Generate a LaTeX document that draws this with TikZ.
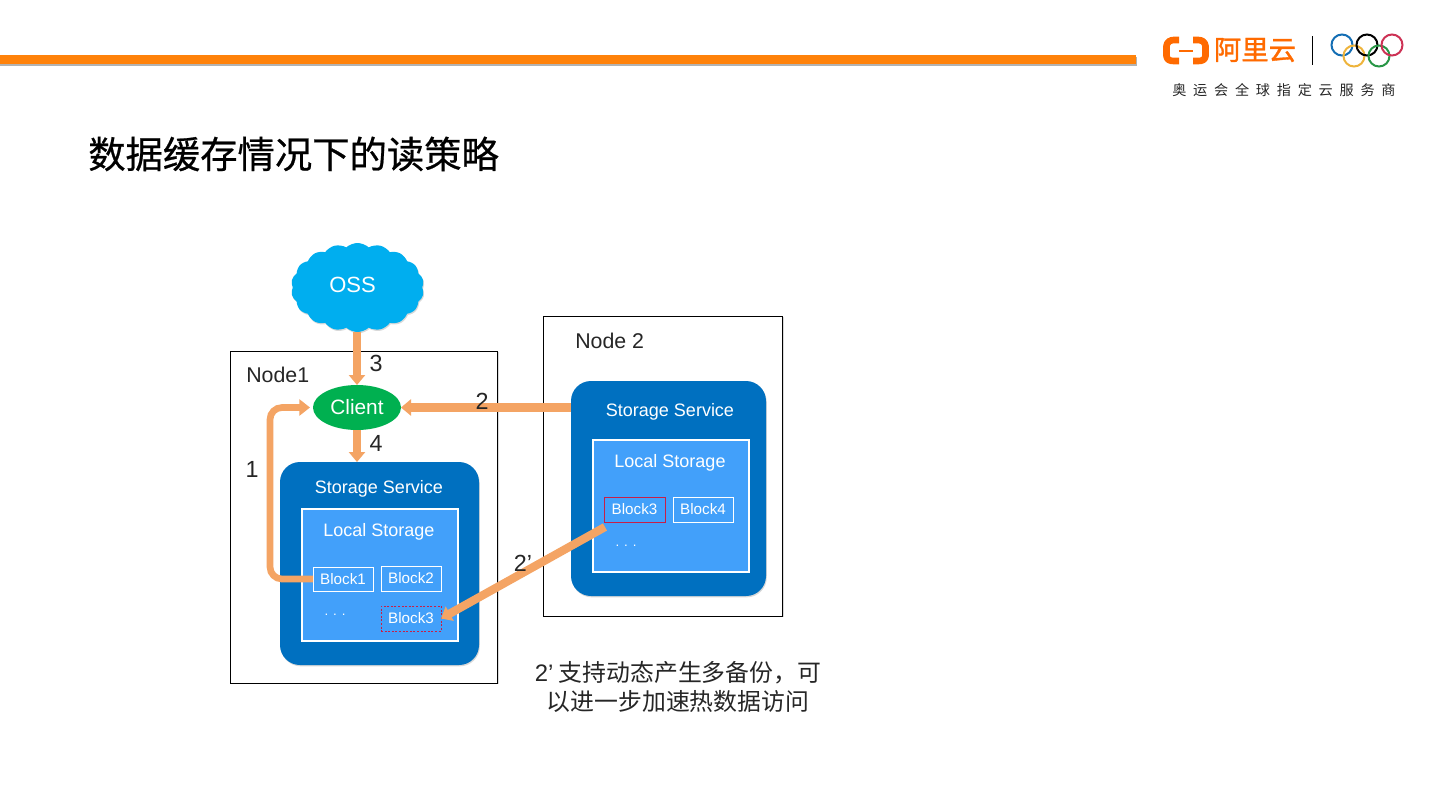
\documentclass[tikz,border=0pt]{standalone}
\usepackage{fontspec}
\setmainfont{Liberation Sans}
\newfontfamily\cjk{Noto Sans CJK SC}
\newfontfamily\cjktitle[FakeBold=0.6]{Noto Sans CJK SC}
\newfontfamily\cjklogo[FakeBold=1.2]{Noto Sans CJK SC}
\newfontfamily\cjktag[LetterSpace=48]{Noto Sans CJK SC}
\usetikzlibrary{arrows.meta,shapes.geometric,shapes.symbols,shadows,positioning}
\def\px{0.75pt}
\definecolor{barorange}{RGB}{255,130,10}
\definecolor{logoorange}{RGB}{255,106,0}
\definecolor{flowc}{RGB}{244,164,100}
\definecolor{svcblue}{RGB}{0,112,192}
\definecolor{locblue}{RGB}{66,160,250}
\definecolor{cloudc}{RGB}{0,174,239}
\definecolor{clientg}{RGB}{0,176,80}
\definecolor{redb}{RGB}{200,30,70}
\definecolor{ringblue}{RGB}{20,110,180}
\definecolor{ringyellow}{RGB}{238,180,60}
\definecolor{ringgreen}{RGB}{40,150,70}
\definecolor{ringred}{RGB}{205,50,85}
\tikzset{
  softshadow/.style={drop shadow={opacity=.3,shadow xshift=.6pt,shadow yshift=-1pt}},
  boxat/.style n args={2}{minimum width=#1*\px,minimum height=#2*\px,inner sep=0pt,outer sep=0pt},
  hostbox/.style={draw=black,fill=white,line width=.75pt,softshadow},
  svcbox/.style={fill=svcblue,rounded corners=15pt,softshadow},
  locbox/.style={fill=locblue,draw=white,line width=1.5pt,softshadow},
  blockbox/.style={draw=white,line width=.75pt,text=white,font=\fontsize{11.4}{13}\selectfont},
  blockred/.style={draw=redb,line width=.75pt,text=white,font=\fontsize{11.4}{13}\selectfont},
  blockdash/.style={draw=redb,dash pattern=on 1.5pt off 1.2pt,line width=.75pt,text=white,font=\fontsize{11.4}{13}\selectfont},
  whitelbl/.style={text=white,font=\fontsize{13.5}{16}\selectfont,inner sep=0pt},
  blacklbl/.style={text=black!85,font=\fontsize{16}{19}\selectfont,inner sep=0pt},
  numlbl/.style={text=black!85,font=\fontsize{17.5}{20}\selectfont,inner sep=0pt},
  flow/.style={draw=flowc,line width=6.2pt,-{Triangle[length=7.5pt,width=12pt]}},
  flowthin/.style={draw=flowc,line width=5pt,-{Triangle[length=8pt,width=12pt]}},
  ring/.style={draw=#1,line width=1.5pt,fill=none,circle,minimum size=21*\px,inner sep=0pt},
  logobracket/.style={draw=logoorange,line width=5pt,line join=round},
}
\begin{document}
\begin{tikzpicture}[x=0.75pt,y=-0.75pt]
\useasboundingbox (0,0) rectangle (1440,810);
% top bar
\fill[black!30] (0,57) rectangle (1137,66);
\fill[barorange] (0,55) rectangle (1136,64);
% logo
\draw[logobracket] (1179,40) -- (1174,40) .. controls (1170,40) and (1167,42) .. (1166.5,46) -- (1166.5,56) .. controls (1167,60) and (1170,61) .. (1174,61) -- (1179,61);
\draw[logobracket] (1193,40) -- (1198,40) .. controls (1202,40) and (1205,42) .. (1205.5,46) -- (1205.5,56) .. controls (1205,60) and (1202,61) .. (1198,61) -- (1193,61);
\fill[logoorange] (1179,49.5) rectangle (1193,52);
\node[inner sep=0pt,text=logoorange,font=\cjklogo\fontsize{20.5}{24}\selectfont] (brand) at (1255,50) {阿里云};
\coordinate (sepa) at (1312.5,36);
\coordinate (sepb) at (1312.5,65);
\draw[black,line width=.8pt] (sepa) -- (sepb);
\node[ring=ringblue] (r1) at (1342,45) {};
\node[ring=ringyellow] (r4) at (1354,56) {};
\node[ring=black] (r2) at (1367,45) {};
\node[ring=ringgreen] (r5) at (1379,56) {};
\node[ring=ringred] (r3) at (1392,45) {};
\node[inner sep=0pt,anchor=west,text=black!85,font=\cjktag\fontsize{10.6}{12}\selectfont] (tag) at (1172,90) {奥运会全球指定云服务商};
% title
\node[inner sep=0pt,anchor=west,text=black,font=\cjktitle\fontsize{28}{32}\selectfont] (title) at (88,154) {数据缓存情况下的读策略};
% hosts
\node[hostbox,boxat={267}{332}] (n1) at (364.4,517) {};
\node[hostbox,boxat={239}{300}] (n2) at (663.4,466) {};
% cloud
\node[cloud,cloud puffs=18,cloud puff arc=85,aspect=1.5,fill=cloudc,softshadow,boxat={133}{89}] (oss) at (357.5,287.5) {};
\node[whitelbl,font=\fontsize{16.5}{19}\selectfont] (osst) at (352.5,285) {OSS};
% client
\node[ellipse,fill=clientg,boxat={88}{45},text=white,font=\fontsize{15.6}{18}\selectfont] (client) at (357,407.5) {Client};
% storage 1
\node[svcbox,boxat={199}{203}] (s1) at (379.5,563.5) {};
\node[whitelbl] (s1t) at (379,489) {Storage Service};
\node[locbox,boxat={156}{132}] (l1) at (380,575) {};
\node[whitelbl] (l1t) at (379,532) {Local Storage};
\node[blockbox,boxat={60}{24}] (b1) at (343,579) {Block1};
\node[blockbox,boxat={60}{25}] (b2) at (411,578.5) {Block2};
\node[blockdash,boxat={60}{25}] (b3a) at (411,618.5) {Block3};
\node[whitelbl,font=\fontsize{10}{12}\selectfont] (d1) at (335,615) {. . .};
% storage 2
\node[svcbox,boxat={195}{215}] (s2) at (668.5,488.5) {};
\node[whitelbl] (s2t) at (670,412) {Storage Service};
\node[locbox,boxat={156}{132}] (l2) at (671,506) {};
\node[whitelbl] (l2t) at (670,463) {Local Storage};
\node[blockred,boxat={61}{25}] (b3b) at (634.5,509.5) {Block3};
\node[blockbox,boxat={60}{25}] (b4) at (703,509.5) {Block4};
\node[whitelbl,font=\fontsize{10}{12}\selectfont] (d2) at (626,546) {. . .};
% connectors
\draw[flow] (oss.south -| client.north) -- (client.north);
\draw[flow] (client.south) -- (s1.north -| client.south);
\draw[flow] (s2.west |- client.east) -- (client.east);
\coordinate (bend) at (270,500);
\draw[flowthin,rounded corners=9pt] (b1.west) -- (bend |- b1.west) -- (bend |- client.west) -- ([xshift=-3*\px]client.west);
\draw[flow] ([shift={(1*\px,-5*\px)}]b3b.south west) -- (b3a.east);
% labels
\node[blacklbl,anchor=west] (n1t) at (246,375) {Node1};
\node[blacklbl,anchor=west] (n2t) at (575,341) {Node 2};
\node[numlbl] (f3) at (376,363) {3};
\node[numlbl] (f4) at (376,443) {4};
\node[numlbl] (f2) at (482,401) {2};
\node[numlbl] (f1) at (252,469) {1};
\node[numlbl] (f2p) at (523,563) {2’};
\node[text=black!85,inner sep=0pt,font=\cjk\fontsize{17.9}{21.7}\selectfont,align=center] (cap) at (678,687) {{\fontspec{Liberation Sans}2’} 支持动态产生多备份，可\\以进一步加速热数据访问};
\end{tikzpicture}
\end{document}
